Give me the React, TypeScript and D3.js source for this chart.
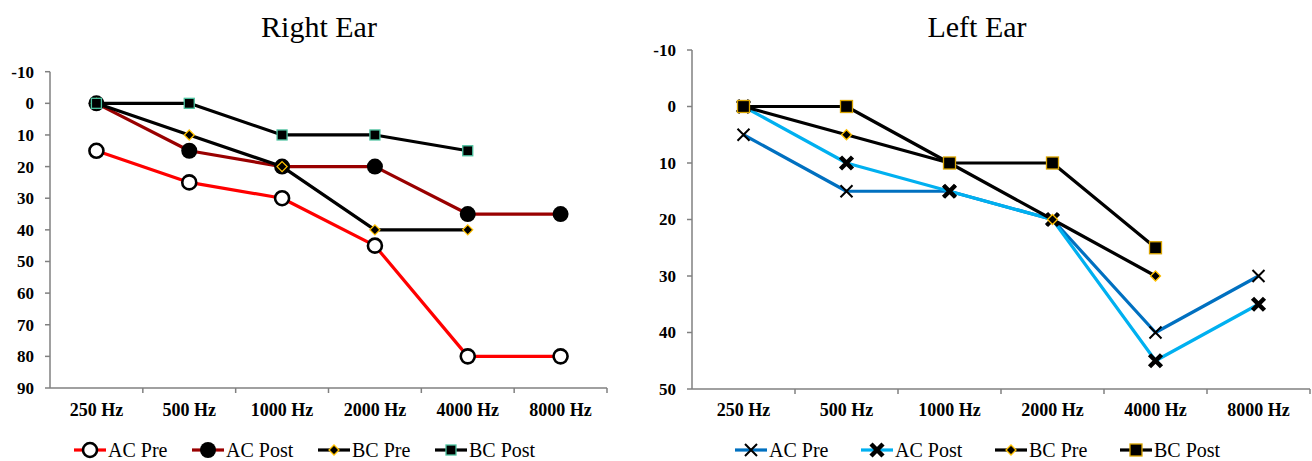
import React, { useEffect, useRef } from 'react'
import * as d3 from 'd3'

const categories = ['250 Hz', '500 Hz', '1000 Hz', '2000 Hz', '4000 Hz', '8000 Hz']
const seriesNames = ['AC Pre', 'AC Post', 'BC Pre', 'BC Post']

// Right ear (dB HL)
const rightAcPre = [15, 25, 30, 45, 80, 80]
const rightAcPost = [0, 15, 20, 20, 35, 35]
const rightBcPre = [0, 10, 20, 40, 40]
const rightBcPost = [0, 0, 10, 10, 15]
const rightYTicks = [-10, 0, 10, 20, 30, 40, 50, 60, 70, 80, 90]

// Left ear (dB HL)
const leftAcPre = [5, 15, 15, 20, 40, 30]
const leftAcPost = [0, 10, 15, 20, 45, 35]
const leftBcPre = [0, 5, 10, 20, 30]
const leftBcPost = [0, 0, 10, 10, 25]
const leftYTicks = [-10, 0, 10, 20, 30, 40, 50]

const SERIF = 'Liberation Serif, DejaVu Serif, serif'

function drawMarker(g, kind, x, y) {
  if (kind === 'openCircle') {
    g.append('circle').attr('cx', x).attr('cy', y).attr('r', 7)
      .attr('fill', '#fff').attr('stroke', '#000').attr('stroke-width', 2.6)
  } else if (kind === 'filledCircle') {
    g.append('circle').attr('cx', x).attr('cy', y).attr('r', 8).attr('fill', '#000')
  } else if (kind === 'diamond') {
    const s = 5
    g.append('path')
      .attr('d', `M${x},${y - s}L${x + s},${y}L${x},${y + s}L${x - s},${y}Z`)
      .attr('fill', '#000').attr('stroke', '#FFC000').attr('stroke-width', 1.3)
  } else if (kind === 'tealSquare') {
    const s = 5
    g.append('rect').attr('x', x - s).attr('y', y - s).attr('width', 2 * s).attr('height', 2 * s)
      .attr('fill', '#000').attr('stroke', '#4DC3A0').attr('stroke-width', 1.3)
  } else if (kind === 'goldSquare') {
    const s = 6
    g.append('rect').attr('x', x - s).attr('y', y - s).attr('width', 2 * s).attr('height', 2 * s)
      .attr('fill', '#000').attr('stroke', '#D9A400').attr('stroke-width', 1.3)
  } else if (kind === 'x' || kind === 'boldX') {
    const s = 6
    const w = kind === 'x' ? 2 : 4.5
    g.append('path')
      .attr('d', `M${x - s},${y - s}L${x + s},${y + s}M${x - s},${y + s}L${x + s},${y - s}`)
      .attr('stroke', '#000').attr('stroke-width', w).attr('fill', 'none')
  }
}

function drawPanel(svg, cfg) {
  const { title, titleX, xRange, yRange, yDomain, yTicks, series, legendX } = cfg
  const g = svg.append('g')

  const x = d3.scaleBand().domain(categories).range(xRange)
  const y = d3.scaleLinear().domain(yDomain).range(yRange)
  const axisColor = '#808080'

  g.append('text').attr('x', titleX).attr('y', 37).attr('text-anchor', 'middle')
    .attr('font-size', 30).attr('fill', '#000').text(title)

  // Y axis
  g.append('line').attr('x1', xRange[0]).attr('x2', xRange[0])
    .attr('y1', yRange[0]).attr('y2', yRange[1]).attr('stroke', axisColor).attr('stroke-width', 1.5)
  yTicks.forEach(t => {
    g.append('line').attr('x1', xRange[0] - 5).attr('x2', xRange[0])
      .attr('y1', y(t)).attr('y2', y(t)).attr('stroke', axisColor).attr('stroke-width', 1.5)
    g.append('text').attr('x', xRange[0] - 16).attr('y', y(t)).attr('dy', '0.35em')
      .attr('text-anchor', 'end').attr('font-weight', 'bold')
      .attr('font-size', 17).text(t)
  })

  // X axis
  const base = y(yDomain[1])
  g.append('line').attr('x1', xRange[0]).attr('x2', xRange[1])
    .attr('y1', base).attr('y2', base).attr('stroke', axisColor).attr('stroke-width', 1.5)
  categories.forEach(c => {
    g.append('line').attr('x1', x(c) + x.bandwidth()).attr('x2', x(c) + x.bandwidth())
      .attr('y1', base).attr('y2', base + 5).attr('stroke', axisColor).attr('stroke-width', 1.5)
    g.append('text').attr('x', x(c) + x.bandwidth() / 2).attr('y', 416)
      .attr('text-anchor', 'middle').attr('font-weight', 'bold')
      .attr('font-size', 18).text(c)
  })

  const cx = c => x(c) + x.bandwidth() / 2

  // Series lines then markers
  series.forEach(s => {
    const line = d3.line().x((d, i) => cx(categories[i])).y(d => y(d))
    g.append('path').datum(s.values).attr('d', line).attr('fill', 'none')
      .attr('stroke', s.color).attr('stroke-width', 3.2).attr('stroke-linejoin', 'round')
    s.values.forEach((v, i) => drawMarker(g, s.marker, cx(categories[i]), y(v)))
  })

  // Legend
  series.forEach((s, i) => {
    const lx = legendX[i]
    const ly = 450
    g.append('line').attr('x1', lx).attr('x2', lx + 32).attr('y1', ly).attr('y2', ly)
      .attr('stroke', s.color).attr('stroke-width', 3.2)
    drawMarker(g, s.marker, lx + 16, ly)
    g.append('text').attr('x', lx + 34).attr('y', ly).attr('dy', '0.33em')
      .attr('font-size', 20).text(seriesNames[i])
  })
}

export default function App() {
  const ref = useRef(null)

  useEffect(() => {
    const svg = d3.select(ref.current)
    svg.selectAll('*').remove()

    drawPanel(svg, {
      title: 'Right Ear',
      titleX: 319,
      xRange: [50, 607],
      yRange: [71.7, 388],
      yDomain: [-10, 90],
      yTicks: rightYTicks,
      legendX: [74, 192, 318, 435],
      series: [
        { values: rightAcPre, color: '#FF0000', marker: 'openCircle' },
        { values: rightAcPost, color: '#990000', marker: 'filledCircle' },
        { values: rightBcPre, color: '#000000', marker: 'diamond' },
        { values: rightBcPost, color: '#000000', marker: 'tealSquare' },
      ],
    })

    drawPanel(svg, {
      title: 'Left Ear',
      titleX: 977,
      xRange: [692, 1310],
      yRange: [50, 389],
      yDomain: [-10, 50],
      yTicks: leftYTicks,
      legendX: [735, 861, 995, 1120],
      series: [
        { values: leftAcPre, color: '#0070C0', marker: 'x' },
        { values: leftAcPost, color: '#00B0F0', marker: 'boldX' },
        { values: leftBcPre, color: '#000000', marker: 'diamond' },
        { values: leftBcPost, color: '#000000', marker: 'goldSquare' },
      ],
    })
  }, [])

  return (
    <svg
      ref={ref}
      width={1312}
      height={461}
      fontFamily={SERIF}
      style={{ position: 'absolute', left: 0, top: 0, background: '#fff' }}
    />
  )
}
